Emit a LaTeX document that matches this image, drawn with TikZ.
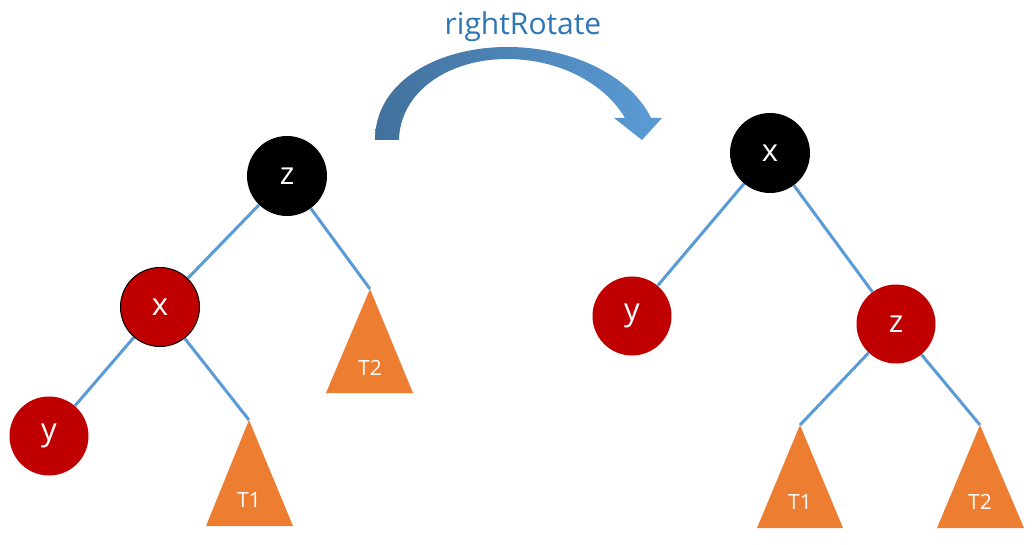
\documentclass[tikz,border=0pt]{standalone}
\usepackage{fontspec}
\setmainfont{Open Sans}
\definecolor{edgeblue}{HTML}{5B9BD5}
\definecolor{nodered}{HTML}{C00000}
\definecolor{triorange}{HTML}{ED7D31}
\definecolor{titleblue}{HTML}{2E75B6}
\definecolor{arrowdark}{HTML}{41719C}
\tikzset{
  blacknode/.style={circle, fill=black, minimum size=80pt, inner sep=0pt, text=white, font=\fontsize{31}{33}\selectfont},
  rednode/.style={circle, fill=nodered, minimum size=79pt, inner sep=0pt, text=white, font=\fontsize{31}{33}\selectfont},
  redborder/.style={rednode, draw=black, line width=1pt},
  link/.style={draw=edgeblue, line width=3pt},
  tri/.style={fill=triorange},
  trilabel/.style={text=white, font=\fontsize{21}{23}\selectfont, inner sep=0pt},
}
\begin{document}
\begin{tikzpicture}[x=1pt,y=-1pt]
\useasboundingbox (0,0) rectangle (1036,545);
% title
\node[text=titleblue, font=\fontsize{30}{32}\selectfont, anchor=base, inner sep=0pt] (title) at (523,35) {rightRotate};
% curved arrow
\shade[left color=arrowdark, right color=edgeblue]
  (375,140) .. controls (375,80) and (440,47) .. (507,47)
  .. controls (575,47) and (632,78) .. (651,118)
  -- (662,118) -- (642,140) -- (614,118) -- (625,118)
  .. controls (605,84) and (560,59) .. (507,59)
  .. controls (448,59) and (400,92) .. (399,140) -- cycle;

% ---------- left tree ----------
\coordinate (LT1a) at (249,420);
\coordinate (LT2a) at (370,289);
\path[tri] (LT1a) -- (293,526) -- (206,526) -- cycle;
\path[tri] (LT2a) -- (413,393) -- (326,393) -- cycle;
\node[trilabel] (LT1) at (249,500) {T1};
\node[trilabel] (LT2) at (370,368) {T2};
\node[blacknode] (Lz) at (287,176) {z};
\node[redborder] (Lx) at (160,307) {x};
\node[rednode] (Ly) at (49,436) {y};
\path[link] (Lz) -- (Lx);
\path[link] (Lz) -- (LT2a);
\path[link] (Lx) -- (Ly);
\path[link] (Lx) -- (LT1a);

% ---------- right tree ----------
\coordinate (RT1a) at (800,425);
\coordinate (RT2a) at (980,425);
\path[tri] (RT1a) -- (843,528) -- (757,528) -- cycle;
\path[tri] (RT2a) -- (1024,528) -- (937,528) -- cycle;
\node[trilabel] (RT1) at (800,502) {T1};
\node[trilabel] (RT2) at (980,502) {T2};
\node[blacknode] (Rx) at (770,153) {x};
\node[rednode] (Ry) at (632,316) {y};
\node[rednode] (Rz) at (896,324) {z};
\path[link] (Rx) -- (Ry);
\path[link] (Rx) -- (Rz);
\path[link] (Rz) -- (RT1a);
\path[link] (Rz) -- (RT2a);
\end{tikzpicture}
\end{document}
